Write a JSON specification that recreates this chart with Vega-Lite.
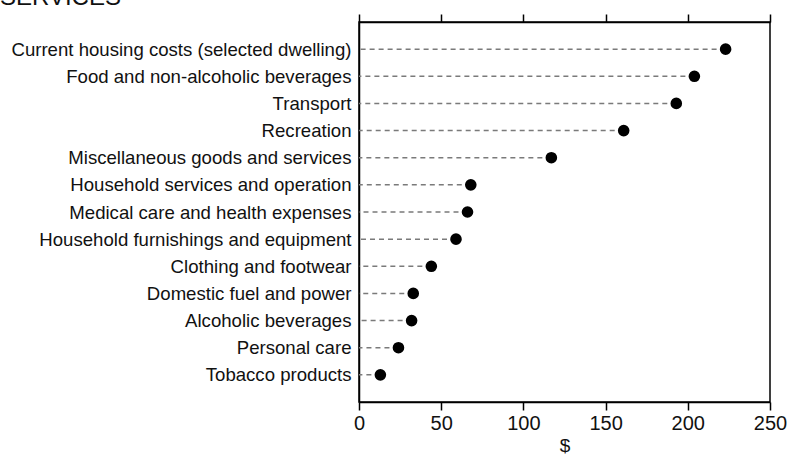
{
  "$schema": "https://vega.github.io/schema/vega-lite/v6.json",
  "autosize": {"type": "none"},
  "width": 411,
  "height": 380,
  "padding": {"left": 359, "top": 22, "right": 18, "bottom": 54},
  "title": {
    "text": "SERVICES",
    "anchor": "start",
    "frame": "group",
    "dx": -359,
    "offset": -16,
    "baseline": "alphabetic",
    "font": "Liberation Sans",
    "fontSize": 24,
    "fontWeight": "normal",
    "color": "#111"
  },
  "config": {
    "font": "Liberation Sans",
    "view": {"stroke": "black", "strokeWidth": 1.5},
    "axis": {
      "labelFont": "Liberation Sans",
      "titleFont": "Liberation Sans",
      "labelFontSize": 18.6,
      "titleFontSize": 19,
      "labelColor": "#111",
      "titleColor": "#111",
      "titleFontWeight": "normal",
      "domainColor": "black",
      "domainWidth": 1.5,
      "tickColor": "black",
      "tickWidth": 1.5,
      "grid": false
    }
  },
  "data": {
    "values": [
      {"category": "Current housing costs (selected dwelling)", "value": 223},
      {"category": "Food and non-alcoholic beverages", "value": 204},
      {"category": "Transport", "value": 193},
      {"category": "Recreation", "value": 161},
      {"category": "Miscellaneous goods and services", "value": 117},
      {"category": "Household services and operation", "value": 68},
      {"category": "Medical care and health expenses", "value": 66},
      {"category": "Household furnishings and equipment", "value": 59},
      {"category": "Clothing and footwear", "value": 44},
      {"category": "Domestic fuel and power", "value": 33},
      {"category": "Alcoholic beverages", "value": 32},
      {"category": "Personal care", "value": 24},
      {"category": "Tobacco products", "value": 13}
    ]
  },
  "encoding": {
    "y": {
      "field": "category",
      "type": "nominal",
      "sort": null,
      "scale": {"type": "point", "padding": 1},
      "axis": {"title": null, "ticks": false, "labelPadding": 8, "domain": true, "labelLimit": 400}
    }
  },
  "layer": [
    {
      "mark": {"type": "rule", "color": "#7a7a7a", "strokeWidth": 1.5, "strokeDash": [5, 4]},
      "encoding": {
        "x": {
          "field": "value",
          "type": "quantitative",
          "scale": {"domain": [0, 250], "nice": false},
          "axis": {"title": "$", "values": [0, 50, 100, 150, 200, 250], "tickSize": 8, "labelPadding": 3, "labelFontSize": 20, "labelFlush": false, "labelOverlap": false, "titlePadding": 3}
        },
        "x2": {"datum": 0}
      }
    },
    {
      "mark": {"type": "point", "filled": true, "shape": "circle", "size": 135, "color": "black", "opacity": 1},
      "encoding": {
        "x": {
          "field": "value",
          "type": "quantitative",
          "axis": {"orient": "top", "title": null, "labels": false, "values": [0, 50, 100, 150, 200, 250], "tickSize": 8}
        }
      }
    }
  ],
  "resolve": {"axis": {"x": "independent"}}
}
